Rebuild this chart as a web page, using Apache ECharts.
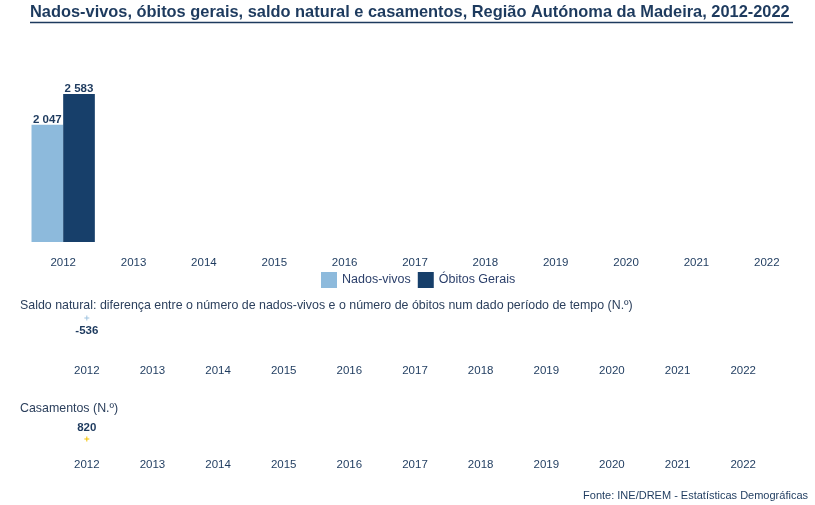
<!DOCTYPE html>
<html>
<head>
<meta charset="utf-8">
<script src="https://cdn.jsdelivr.net/npm/echarts@6/dist/echarts.min.js"></script>
<style>
html,body{margin:0;padding:0;background:#fff;}
#c{width:815px;height:505px;}
</style>
</head>
<body>
<div id="c"></div>
<script>
const years = ['2012','2013','2014','2015','2016','2017','2018','2019','2020','2021','2022'];
const nadosVivos = [2047, null, null, null, null, null, null, null, null, null, null];
const obitosGerais = [2583, null, null, null, null, null, null, null, null, null, null];
const saldoNatural = [-536, null, null, null, null, null, null, null, null, null, null];
const casamentos = [820, null, null, null, null, null, null, null, null, null, null];

const navy = '#1d3a5e';
const fontFam = '"Liberation Sans", Arial, sans-serif';
const fmt = v => {
  if (v == null) return '';
  const s = Math.abs(v).toString().replace(/\B(?=(\d{3})+(?!\d))/g, ' ');
  return (v < 0 ? '-' : '') + s;
};
const plus = 'path://M2,0H3V2H5V3H3V5H2V3H0V2H2Z';

const chart = echarts.init(document.getElementById('c'));
const catAxis = (gi, margin) => ({
  type: 'category', gridIndex: gi, data: years,
  axisLine: {show: false}, axisTick: {show: false},
  axisLabel: {color: navy, fontSize: 11.5, fontFamily: fontFam, margin: margin, interval: 0}
});
const valAxis = (gi, min, max) => ({
  type: 'value', gridIndex: gi, min: min, max: max, show: false
});

chart.setOption({
  animation: false,
  textStyle: {fontFamily: fontFam},
  title: [
    {text: 'Nados-vivos, óbitos gerais, saldo natural e casamentos, Região Autónoma da Madeira, 2012-2022',
     left: 25, top: -1,
     textStyle: {color: navy, fontSize: 16.4, fontWeight: 'bold', fontFamily: fontFam}},
    {text: 'Saldo natural: diferença entre o número de nados-vivos e o número de óbitos num dado período de tempo (N.º)',
     left: 15, top: 295,
     textStyle: {color: '#2b3f5c', fontSize: 12.4, fontWeight: 'normal', fontFamily: fontFam}},
    {text: 'Casamentos (N.º)',
     left: 15, top: 398,
     textStyle: {color: '#2b3f5c', fontSize: 12.4, fontWeight: 'normal', fontFamily: fontFam}},
    {text: 'Fonte: INE/DREM - Estatísticas Demográficas',
     right: 2, top: 485,
     textStyle: {color: navy, fontSize: 11, fontWeight: 'normal', fontFamily: fontFam}}
  ],
  graphic: [
    {type: 'line', shape: {x1: 30, y1: 22.5, x2: 793, y2: 22.5}, style: {stroke: navy, lineWidth: 1.5}}
  ],
  legend: {
    left: 316, top: 267, itemWidth: 16, itemHeight: 16, itemGap: 7,
    icon: 'rect',
    textStyle: {color: '#2b3f6a', fontSize: 12.5, fontFamily: fontFam},
    data: ['Nados-vivos', 'Óbitos Gerais']
  },
  grid: [
    {left: 28, width: 774, top: 70, height: 172},
    {left: 54, width: 722, top: 312, height: 44},
    {left: 54, width: 722, top: 415, height: 35}
  ],
  xAxis: [catAxis(0, 15), catAxis(1, 9), catAxis(2, 9)],
  yAxis: [valAxis(0, 0, 3000), valAxis(1, -4000, 0), valAxis(2, 0, 2600)],
  series: [
    {name: 'Nados-vivos', type: 'bar', xAxisIndex: 0, yAxisIndex: 0, data: nadosVivos,
     barGap: '0%', barCategoryGap: '10%', itemStyle: {color: '#8dbadc'},
     label: {show: true, position: 'top', distance: -1, color: navy, fontWeight: 'bold', fontSize: 11.5, formatter: p => fmt(p.value)}},
    {name: 'Óbitos Gerais', type: 'bar', xAxisIndex: 0, yAxisIndex: 0, data: obitosGerais,
     barGap: '0%', barCategoryGap: '10%', itemStyle: {color: '#173f6a'},
     label: {show: true, position: 'top', distance: -1, color: navy, fontWeight: 'bold', fontSize: 11.5, formatter: p => fmt(p.value)}},
    {name: 'Saldo natural', type: 'line', xAxisIndex: 1, yAxisIndex: 1, data: saldoNatural,
     symbol: plus, symbolSize: 5, showSymbol: true, itemStyle: {color: '#9fc3e0'}, lineStyle: {color: '#9fc3e0'},
     label: {show: true, position: 'bottom', distance: 4, color: navy, fontWeight: 'bold', fontSize: 11.5, formatter: p => fmt(p.value)}},
    {name: 'Casamentos', type: 'line', xAxisIndex: 2, yAxisIndex: 2, data: casamentos,
     symbol: plus, symbolSize: 5, showSymbol: true, itemStyle: {color: '#f2c200'}, lineStyle: {color: '#f2c200'},
     label: {show: true, position: 'top', distance: 3, color: navy, fontWeight: 'bold', fontSize: 11.5, formatter: p => fmt(p.value)}}
  ]
});
</script>
</body>
</html>
